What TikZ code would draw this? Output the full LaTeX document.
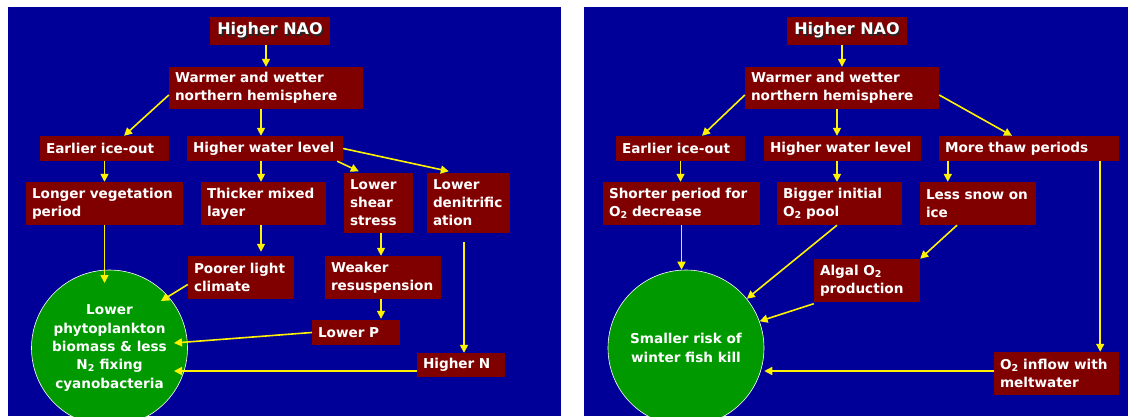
\documentclass[tikz,border=0pt]{standalone}
\usepackage{fontspec}
\setmainfont{DejaVu Sans}
\usetikzlibrary{arrows.meta}
\definecolor{panelblue}{RGB}{0,0,153}
\definecolor{boxred}{RGB}{128,0,0}
\definecolor{discgreen}{RGB}{0,153,0}
\newcommand{\shadowed}[1]{\makebox[0pt][l]{\hspace{1.3pt}\raisebox{-1.3pt}{\color{black!85}#1}}#1}
\begin{document}
\begin{tikzpicture}[x=1pt,y=-1pt,
    box/.style 2 args={fill=boxred, text=white, font=\bfseries\fontsize{13.6}{18}\selectfont,
        inner xsep=6pt, inner ysep=0pt, align=left, text width=#1, minimum height=#2},
    nao/.style={fill=boxred, text=white, font=\bfseries\fontsize{16}{19}\selectfont,
        inner sep=0pt, minimum width=120pt, minimum height=28pt},
    disc/.style={circle, fill=discgreen, draw=white, line width=0.6pt, text=white,
        font=\bfseries\fontsize{13.6}{18.3}\selectfont, align=center, inner sep=0pt, minimum size=156pt},
    arr/.style={draw=yellow, line width=1.6pt, -{Triangle[length=8pt,width=8pt]}, yellow}]
    \fill[white] (0,0) rectangle (1128,416);
    \useasboundingbox (0,0) rectangle (1128,416);
    \fill[panelblue] (8,7) rectangle (561,416);
    \fill[panelblue] (584,7) rectangle (1128,416);

    \node[nao] (nao1) at (270,31) {\shadowed{Higher NAO}};
    \node[box={182pt}{42pt}] (warm1) at (266,88) {Warmer and wetter\\northern hemisphere};
    \node[box={117pt}{25pt}] (ice1) at (104.5,148.5) {Earlier ice-out};
    \node[box={144pt}{25pt}] (water1) at (265,148.5) {Higher water level};
    \node[box={145pt}{43pt}] (veg1) at (104.5,203.5) {Longer vegetation\\period};
    \node[box={113pt}{43pt}] (mixed1) at (263.5,203.5) {Thicker mixed\\layer};
    \node[box={57pt}{60pt}] (shear1) at (378.5,203) {Lower\\shear\\stress};
    \node[box={71pt}{60pt}] (denit1) at (468.5,203) {Lower\\denitrific\\ation};
    \node[box={94pt}{43pt}] (light1) at (241,277.5) {Poorer light\\climate};
    \node[box={104pt}{43pt}] (resus1) at (383,277.5) {Weaker\\resuspension};
    \node[box={76pt}{25pt}] (lowp1) at (356,332.5) {Lower P};
    \node[box={76pt}{24pt}] (highn1) at (461,365) {Higher N};
    \node[disc] (plankton) at (109.5,348) {Lower\\phytoplankton\\biomass \& less\\N\textsubscript{2} fixing\\cyanobacteria};

    \draw[arr] (nao1.south -| warm1.north) -- (warm1.north);
    \draw[arr] ([yshift=-7pt]warm1.west) -- ([xshift=19.5pt]ice1.north);
    \draw[arr] ([xshift=-4pt]water1.north |- warm1.south) -- ([xshift=-4pt]water1.north);
    \draw[arr] (ice1.south) -- (ice1.south |- veg1.north);
    \draw[arr] ([xshift=-2.5pt]mixed1.north |- water1.south) -- ([xshift=-2.5pt]mixed1.north);
    \draw[arr] ([xshift=-6pt]water1.south east) -- ([xshift=15pt,yshift=1.5pt]shear1.north west);
    \draw[arr] (water1.east) -- ([xshift=22pt,yshift=1.5pt]denit1.north west);
    \draw[arr] (veg1.south) -- ([shift={(-5,-65)}]plankton.center);
    \draw[arr, shorten >=4pt] ([xshift=-2.5pt]mixed1.south) -- ([xshift=-2.5pt]mixed1.south |- light1.north);
    \draw[arr] ([yshift=-7pt]light1.west) -- ([shift={(51.5,-47)}]plankton.center);
    \draw[arr] ([xshift=2.5pt]shear1.south) -- ([xshift=2.5pt]shear1.south |- resus1.north);
    \draw[arr, shorten >=1pt] ([xshift=-2pt]resus1.south) -- ([xshift=-2pt]resus1.south |- lowp1.north);
    \draw[arr, shorten <=9pt] ([xshift=-4.5pt]denit1.south) -- ([xshift=-4.5pt]denit1.south |- highn1.north);
    \draw[arr] (lowp1.west) -- ([shift={(64.5,-5)}]plankton.center);
    \draw[arr] ([yshift=-6pt]highn1.west) -- ([shift={(64.5,23)}]plankton.center);

    \node[nao] (nao2) at (847,31) {\shadowed{Higher NAO}};
    \node[box={182pt}{42pt}] (warm2) at (842,88) {Warmer and wetter\\northern hemisphere};
    \node[box={117pt}{25pt}] (ice2) at (680.5,148.5) {Earlier ice-out};
    \node[box={145pt}{25pt}] (water2) at (842.5,148.5) {Higher water level};
    \node[box={168pt}{25pt}] (thaw2) at (1029,148.5) {More thaw periods};
    \node[box={145pt}{43pt}] (short2) at (681.5,203.5) {Shorter period for\\O\textsubscript{2} decrease};
    \node[box={113pt}{43pt}] (big2) at (839.5,203.5) {Bigger initial\\O\textsubscript{2} pool};
    \node[box={104pt}{43pt}] (snow2) at (978,203.5) {Less snow on\\ice};
    \node[box={94pt}{43pt}] (algal2) at (867,280.5) {Algal O\textsubscript{2}\\production};
    \node[box={113pt}{43pt}] (inflow2) at (1056.5,373.5) {O\textsubscript{2} inflow with\\meltwater};
    \node[disc] (fishkill) at (686,348) {Smaller risk of\\winter fish kill};

    \draw[arr] (nao2.south -| warm2.north) -- (warm2.north);
    \draw[arr] ([yshift=-7pt]warm2.west) -- ([xshift=21.5pt]ice2.north);
    \draw[arr] ([xshift=-5pt]warm2.south) -- ([xshift=-5pt]warm2.south |- water2.north);
    \draw[arr] ([yshift=-7pt]warm2.east) -- ([xshift=-17pt]thaw2.north);
    \draw[arr] (ice2.south) -- (ice2.south |- short2.north);
    \draw[arr] ([xshift=-5.5pt]water2.south) -- ([xshift=-5.5pt]water2.south |- big2.north);
    \draw[arr] ([xshift=9pt]thaw2.south west) -- ([xshift=9pt]thaw2.south west |- snow2.north);
    \draw[arr] ([xshift=-19pt]thaw2.south east) -- ([xshift=-19pt]inflow2.north east);
    \draw[arr] (short2.south) -- (short2.south |- fishkill.north);
    \draw[arr] ([xshift=-2.5pt]big2.south) -- (fishkill.39);
    \draw[arr] ([xshift=-21pt]snow2.south) -- (algal2.north east);
    \draw[arr] ([yshift=-1.5pt]algal2.south west) -- (fishkill.20);
    \draw[arr] ([yshift=2.5pt]inflow2.west) -- ([yshift=2.5pt]inflow2.west -| fishkill.east);
\end{tikzpicture}
\end{document}
